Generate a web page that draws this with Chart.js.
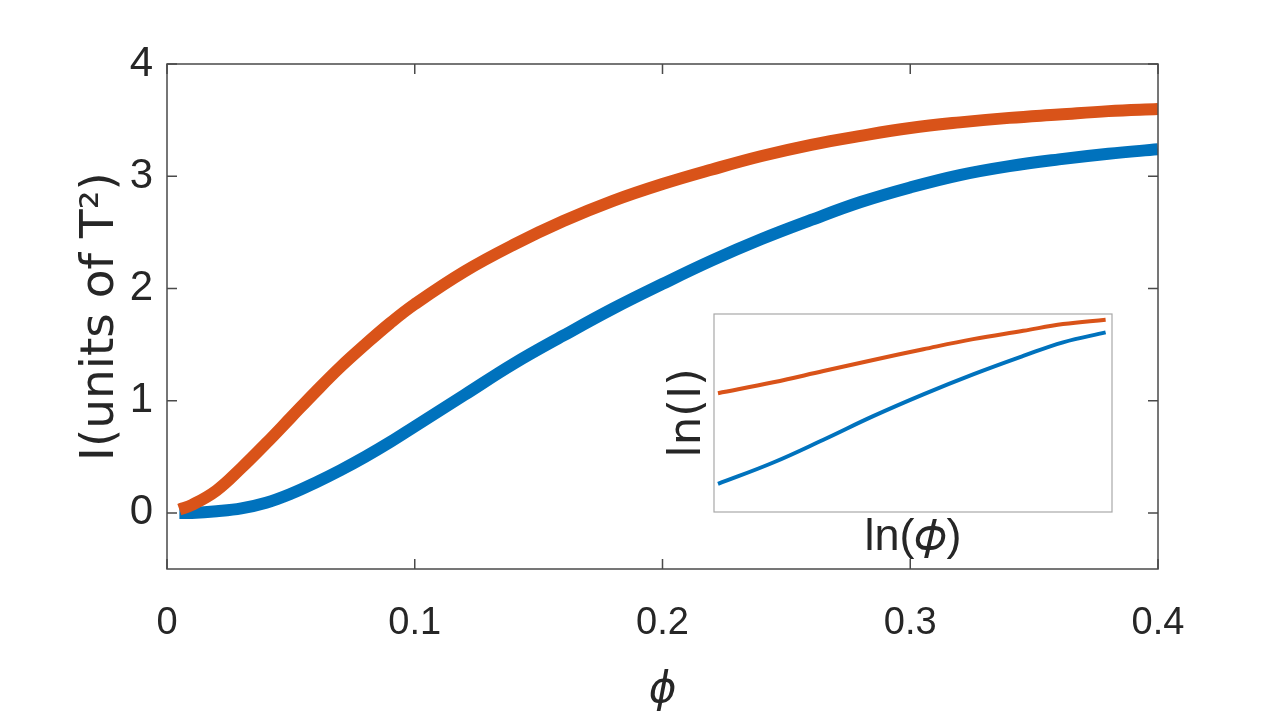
<!DOCTYPE html>
<html>
<head>
<meta charset="utf-8">
<script src="https://cdn.jsdelivr.net/npm/chart.js@4"></script>
<style>
  html, body { margin:0; padding:0; background:#fff; }
  #wrap { position:relative; width:1280px; height:720px; }
  #main { position:absolute; left:0; top:0; }
  #inset { position:absolute; left:640px; top:300px; }
</style>
</head>
<body>
<div id="wrap">
  <canvas id="main" width="1280" height="720" style="width:1280px;height:720px"></canvas>
  <canvas id="inset" width="490" height="270" style="width:490px;height:270px"></canvas>
</div>
<script>
// ---- main plot data ----
const phi     = [0.005,0.01,0.02,0.03,0.04,0.05,0.06,0.07,0.08,0.09,0.10,0.12,0.14,0.16,0.18,0.20,0.22,0.24,0.26,0.28,0.30,0.32,0.34,0.36,0.38,0.40];
const blueI   = [0.00,0.00,0.015,0.04,0.09,0.17,0.27,0.38,0.50,0.63,0.77,1.05,1.33,1.58,1.82,2.04,2.25,2.44,2.61,2.77,2.90,3.01,3.09,3.15,3.20,3.24];
const orangeI = [0.03,0.07,0.20,0.40,0.62,0.85,1.08,1.30,1.50,1.69,1.86,2.15,2.39,2.60,2.78,2.93,3.06,3.18,3.28,3.36,3.43,3.48,3.52,3.55,3.58,3.60];
const xTicks  = [0, 0.1, 0.2, 0.3, 0.4];
const yTicks  = [0, 1, 2, 3, 4];

// ---- inset data (ln-ln, arbitrary units, no tick labels) ----
const insetX      = [0.01,0.149,0.275,0.40,0.526,0.651,0.777,0.877,0.984];
const insetBlue   = [0.142,0.25,0.365,0.484,0.594,0.695,0.788,0.857,0.907];
const insetOrange = [0.60,0.655,0.712,0.768,0.822,0.873,0.915,0.949,0.971];

const BLUE = '#0072BD', ORANGE = '#D95319';
const SANS = "'Liberation Sans', Arial, sans-serif";
const WIDE = "'DejaVu Sans', 'Liberation Sans', sans-serif";
Chart.defaults.font.family = SANS;
Chart.defaults.color = '#262626';

const pts = (xs, ys) => xs.map((x, i) => ({x, y: ys[i]}));

// box + inward ticks on all four sides
const boxTicks = {
  id: 'boxTicks',
  afterDatasetsDraw(chart, args, opts) {
    const {ctx, chartArea: a} = chart;
    ctx.save();
    ctx.strokeStyle = opts.color;
    ctx.lineWidth = opts.width;
    ctx.strokeRect(a.left, a.top, a.right - a.left, a.bottom - a.top);
    if (opts.ticks) {
      const L = opts.len;
      ctx.beginPath();
      chart.scales.x.ticks.forEach(t => {
        const px = chart.scales.x.getPixelForValue(t.value);
        ctx.moveTo(px, a.bottom); ctx.lineTo(px, a.bottom - L);
        ctx.moveTo(px, a.top); ctx.lineTo(px, a.top + L);
      });
      chart.scales.y.ticks.forEach(t => {
        const py = chart.scales.y.getPixelForValue(t.value);
        ctx.moveTo(a.left, py); ctx.lineTo(a.left + L, py);
        ctx.moveTo(a.right, py); ctx.lineTo(a.right - L, py);
      });
      ctx.stroke();
    }
    ctx.restore();
  }
};

const lineEl = { tension: 0.4, cubicInterpolationMode: 'default', borderCapStyle: 'butt', borderJoinStyle: 'round' };

new Chart(document.getElementById('main'), {
  type: 'line',
  data: {
    datasets: [
      { data: pts(phi, orangeI), borderColor: ORANGE, borderWidth: 12, order: 1 },
      { data: pts(phi, blueI),   borderColor: BLUE,   borderWidth: 12, order: 2 }
    ]
  },
  options: {
    responsive: false, animation: false, devicePixelRatio: 1,
    layout: { padding: { top: 64, right: 122, left: 0, bottom: 0 } },
    elements: { point: { radius: 0 }, line: lineEl },
    plugins: { legend: { display: false }, tooltip: { enabled: false },
      boxTicks: { color: '#4a4a4a', width: 1.5, len: 10, ticks: true } },
    scales: {
      x: {
        type: 'linear', min: 0, max: 0.4,
        afterBuildTicks: s => { s.ticks = xTicks.map(v => ({value: v})); },
        afterFit: s => { s.height = 151; },
        grid: { display: false, drawTicks: false }, border: { display: false },
        ticks: { font: { size: 38 }, padding: 32, maxRotation: 0, callback: v => String(v) },
        title: { display: true, text: 'ϕ', font: { family: WIDE, size: 42, style: 'italic' }, padding: { top: 0, bottom: 4 } }
      },
      y: {
        type: 'linear', min: -0.5, max: 4,
        afterBuildTicks: s => { s.ticks = yTicks.map(v => ({value: v})); },
        afterFit: s => { s.width = 167; },
        grid: { display: false, drawTicks: false }, border: { display: false },
        ticks: { font: { size: 42 }, padding: 14, callback: v => String(v) },
        title: { display: true, text: 'I(units of T²)', font: { family: WIDE, size: 47 }, padding: { top: 73, bottom: 0 } }
      }
    }
  },
  plugins: [boxTicks]
});

new Chart(document.getElementById('inset'), {
  type: 'line',
  data: {
    datasets: [
      { data: pts(insetX, insetOrange), borderColor: ORANGE, borderWidth: 4, order: 1 },
      { data: pts(insetX, insetBlue),   borderColor: BLUE,   borderWidth: 4, order: 2 }
    ]
  },
  options: {
    responsive: false, animation: false, devicePixelRatio: 1,
    layout: { padding: { top: 14, right: 18, left: 0, bottom: 0 } },
    elements: { point: { radius: 0 }, line: lineEl },
    plugins: { legend: { display: false }, tooltip: { enabled: false },
      boxTicks: { color: '#a8a8a8', width: 1.2, len: 0, ticks: false } },
    scales: {
      x: {
        type: 'linear', min: 0, max: 1,
        afterFit: s => { s.height = 58; },
        grid: { display: false, drawTicks: false }, border: { display: false },
        ticks: { display: false },
        title: { display: true, text: 'ln(𝜙)', font: { size: 45 }, padding: { top: 0, bottom: 5 } }
      },
      y: {
        type: 'linear', min: 0, max: 1,
        afterFit: s => { s.width = 74; },
        grid: { display: false, drawTicks: false }, border: { display: false },
        ticks: { display: false },
        title: { display: true, text: 'ln(I)', font: { family: WIDE, size: 45 }, padding: { top: 21, bottom: 0 } }
      }
    }
  },
  plugins: [boxTicks]
});
</script>
</body>
</html>
